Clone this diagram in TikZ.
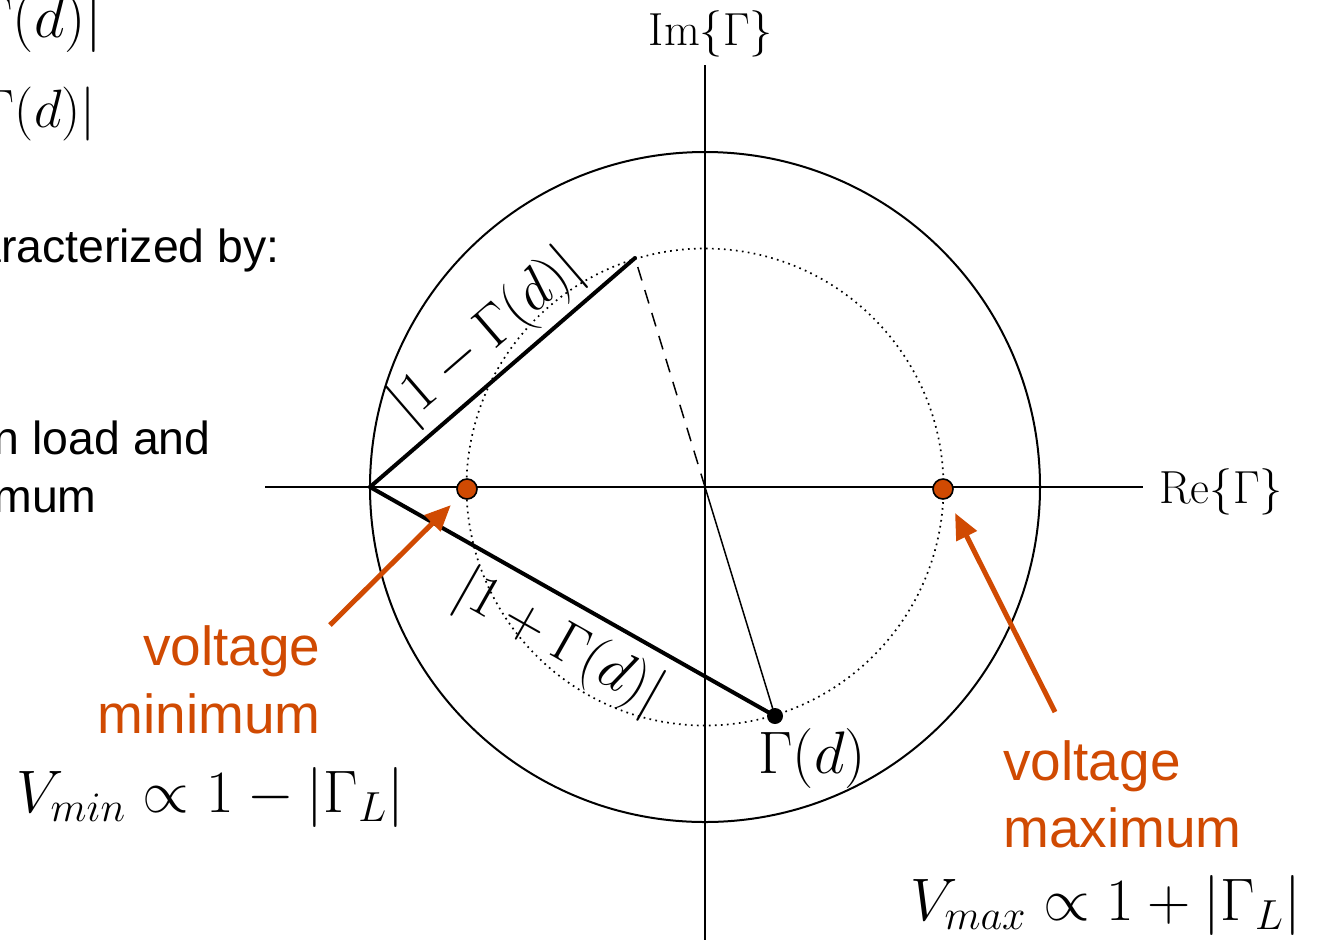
\RequirePackage{fix-cm}
\documentclass[tikz,border=0pt]{standalone}
\usepackage{fontspec}
\newfontfamily\sansf{Liberation Sans}
\usetikzlibrary{arrows.meta}
\definecolor{vorange}{RGB}{208,74,2}
\begin{document}
\begin{tikzpicture}[x=0.5pt,y=-0.5pt,
  axis/.style={line width=1pt},
  thickln/.style={line width=2pt},
  thinln/.style={line width=0.75pt},
  mathlbl/.style={inner sep=0pt, font=\fontsize{30}{36}\selectfont},
  rotlbl/.style={inner sep=0pt, font=\fontsize{29}{34}\selectfont},
  toplbl/.style={inner sep=0pt, font=\fontsize{30}{36}\selectfont},
  toplblb/.style={inner sep=0pt, font=\fontsize{27}{32}\selectfont},
  axlbl/.style={inner sep=0pt, font=\fontsize{23.2}{28}\selectfont},
  otext/.style={inner sep=0pt, text=vorange, font=\sansf\fontsize{27.5}{34}\selectfont},
  btext/.style={inner sep=0pt, font=\sansf\fontsize{23.2}{28}\selectfont},
  oarrow/.style={draw=vorange, line width=2.5pt, -{Triangle[length=13pt,width=11pt]}},
  reddot/.style={circle, fill=vorange, draw=black, line width=0.8pt, minimum size=10pt, inner sep=0pt},
  blackdot/.style={circle, fill=black, minimum size=8pt, inner sep=0pt},
]
\useasboundingbox (0,0) rectangle (1317,939);
\clip (0,0) rectangle (1317,939);

% partial text at left (cut by the page edge)
\node[toplbl, anchor=base east] (t1) at (103,37) {$|1+\Gamma(d)|$};
\node[toplblb, anchor=base east] (t2) at (96,127) {$|1-\Gamma(d)|$};
\node[btext, anchor=base east] (b1) at (280,262) {characterized by:};
\node[btext, anchor=base east] (b2) at (211,454) {in load and};
\node[btext, anchor=base east] (b3) at (97,512) {minimum};

% geometry
\coordinate (O) at (705,487);
\coordinate (A) at (370,487);
\coordinate (G) at (775,716);
\coordinate (Gm) at (635,258);

\draw[axis] (O) circle[radius=167.5pt];
\draw[line width=0.85pt, dash pattern=on 0.85pt off 2.15pt] (O) circle[radius=119.25pt];

\coordinate (xl) at (265,487);
\coordinate (xr) at (1143,487);
\coordinate (yt) at (705,65);
\coordinate (yb) at (705,945);
\draw[axis] (xl) -- (xr);
\draw[axis] (yt) -- (yb);
\node[axlbl, anchor=base] (im) at (711,45) {$\mathrm{Im}\{\Gamma\}$};
\node[axlbl, anchor=base west] (re) at (1159,503) {$\mathrm{Re}\{\Gamma\}$};

\draw[thinln, dash pattern=on 7pt off 5pt] (O) -- (Gm);
\draw[thinln] (O) -- (G);
\draw[thickln, line cap=round] (A) -- (Gm)
  node[rotlbl, sloped, above=3pt, pos=0.533] (l1) {$|1-\Gamma(d)|$};
\draw[thickln, line cap=round] (A) -- (G)
  node[rotlbl, sloped, below=6pt, pos=0.518] (l2) {$|1+\Gamma(d)|$};

\node[blackdot] (g) at (G) {};
\node[mathlbl, anchor=base west] (gl) at (758,773) {$\Gamma(d)$};

\node[reddot] (m1) at (467,489) {};
\node[reddot] (m2) at (943,489) {};

% voltage minimum
\node[otext, anchor=base east] (vmin1) at (321,665) {voltage};
\node[otext, anchor=base east] (vmin2) at (321,733) {minimum};
\coordinate (amin) at (330,625);
\draw[oarrow, shorten >=6pt] (amin) -- (m1);
\node[mathlbl, anchor=base west] (vminf) at (16,812) {$V_{min}\propto 1-|\Gamma_L|$};

% voltage maximum
\node[otext, anchor=base west] (vmax1) at (1003,780) {voltage};
\node[otext, anchor=base west] (vmax2) at (1003,847) {maximum};
\coordinate (amax) at (1055,712);
\draw[oarrow, shorten >=8pt] (amax) -- (m2);
\node[mathlbl, anchor=base west] (vmaxf) at (910,920) {$V_{max}\propto 1+|\Gamma_L|$};
\end{tikzpicture}
\end{document}
